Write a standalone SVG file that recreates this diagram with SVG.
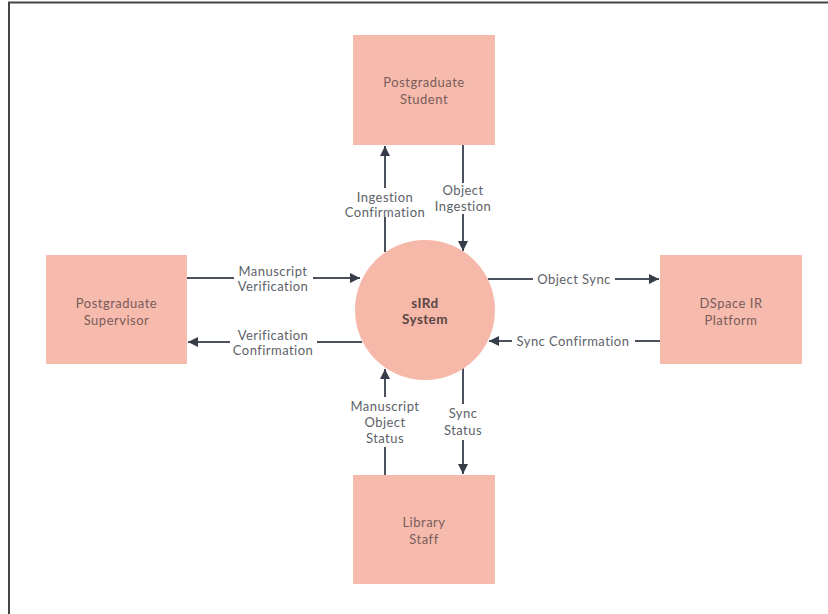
<svg xmlns="http://www.w3.org/2000/svg" width="828" height="614" viewBox="0 0 828 614">
  <style>
    .box { fill: #f6bbad; }
    .hub { fill: #f5b8a9; }
    .node-text { font-family: Lato, "Open Sans", sans-serif; font-size: 13px; letter-spacing: 0.5px; fill: #7a5c5a; text-anchor: middle; dominant-baseline: central; }
    .hub-text { font-family: Lato, "Open Sans", sans-serif; font-size: 13.5px; font-weight: bold; letter-spacing: 0.4px; fill: #5b4644; text-anchor: middle; dominant-baseline: central; }
    .flow { stroke: #4a515c; stroke-width: 2; fill: none; }
    .gap { fill: #ffffff; }
    .label { font-family: Lato, "Open Sans", sans-serif; font-size: 13px; letter-spacing: 0.45px; fill: #5d6268; text-anchor: middle; dominant-baseline: central; }
  </style>
  <defs>
    <marker id="arrow" viewBox="0 0 10 10" refX="10" refY="5" markerWidth="5.5" markerHeight="5" orient="auto" markerUnits="strokeWidth">
      <path d="M0,0 L10,5 L0,10 Z" fill="#363d48"/>
    </marker>
  </defs>

  <rect x="0" y="0" width="828" height="614" fill="#ffffff"/>
  <!-- page frame -->
  <path d="M9,614 V2.5 H828" fill="none" stroke="#454545" stroke-width="2"/>

  <!-- connectors -->
  <g id="connectors">
    <!-- Ingestion Confirmation: hub -> student -->
    <line class="flow" x1="385" y1="252" x2="385" y2="146" marker-end="url(#arrow)"/>
    <rect class="gap" x="340" y="188" width="90" height="29"/>
    <text class="label" x="385" y="197">Ingestion</text>
    <text class="label" x="385" y="212">Confirmation</text>

    <!-- Object Ingestion: student -> hub -->
    <line class="flow" x1="463" y1="145" x2="463" y2="251" marker-end="url(#arrow)"/>
    <rect class="gap" x="428" y="183" width="70" height="31"/>
    <text class="label" x="463" y="190">Object</text>
    <text class="label" x="463" y="206">Ingestion</text>

    <!-- Manuscript Verification: supervisor -> hub -->
    <line class="flow" x1="187" y1="278" x2="360" y2="278" marker-end="url(#arrow)"/>
    <rect class="gap" x="234" y="263" width="79" height="30"/>
    <text class="label" x="273" y="271">Manuscript</text>
    <text class="label" x="273" y="286">Verification</text>

    <!-- Verification Confirmation: hub -> supervisor -->
    <line class="flow" x1="362" y1="342" x2="188" y2="342" marker-end="url(#arrow)"/>
    <rect class="gap" x="230" y="327" width="87" height="30"/>
    <text class="label" x="273" y="335">Verification</text>
    <text class="label" x="273" y="350">Confirmation</text>

    <!-- Object Sync: hub -> DSpace -->
    <line class="flow" x1="488" y1="279" x2="659" y2="279" marker-end="url(#arrow)"/>
    <rect class="gap" x="533" y="271" width="82" height="16"/>
    <text class="label" x="574" y="279">Object Sync</text>

    <!-- Sync Confirmation: DSpace -> hub -->
    <line class="flow" x1="660" y1="341" x2="489" y2="341" marker-end="url(#arrow)"/>
    <rect class="gap" x="512" y="333" width="123" height="16"/>
    <text class="label" x="573" y="341">Sync Confirmation</text>

    <!-- Manuscript Object Status: library -> hub -->
    <line class="flow" x1="385" y1="475" x2="385" y2="369" marker-end="url(#arrow)"/>
    <rect class="gap" x="343" y="397" width="84" height="50"/>
    <text class="label" x="385" y="406">Manuscript</text>
    <text class="label" x="385" y="422">Object</text>
    <text class="label" x="385" y="438">Status</text>

    <!-- Sync Status: hub -> library -->
    <line class="flow" x1="463" y1="368" x2="463" y2="474" marker-end="url(#arrow)"/>
    <rect class="gap" x="440" y="404" width="46" height="36"/>
    <text class="label" x="463" y="413">Sync</text>
    <text class="label" x="463" y="430">Status</text>
  </g>

  <g id="student">
    <rect class="box" x="353" y="35" width="142" height="110"/>
    <text class="node-text" x="424" y="82">Postgraduate</text>
    <text class="node-text" x="424" y="99">Student</text>
  </g>

  <g id="supervisor">
    <rect class="box" x="46" y="255" width="141" height="109"/>
    <text class="node-text" x="116.5" y="303">Postgraduate</text>
    <text class="node-text" x="116.5" y="320">Supervisor</text>
  </g>

  <g id="dspace">
    <rect class="box" x="660" y="255" width="142" height="109"/>
    <text class="node-text" x="731" y="303">DSpace IR</text>
    <text class="node-text" x="731" y="320">Platform</text>
  </g>

  <g id="library">
    <rect class="box" x="353" y="475" width="142" height="109"/>
    <text class="node-text" x="424" y="522">Library</text>
    <text class="node-text" x="424" y="539">Staff</text>
  </g>

  <g id="sird-system">
    <circle class="hub" cx="425" cy="310" r="70"/>
    <text class="hub-text" x="425" y="303">sIRd</text>
    <text class="hub-text" x="425" y="319">System</text>
  </g>
</svg>
